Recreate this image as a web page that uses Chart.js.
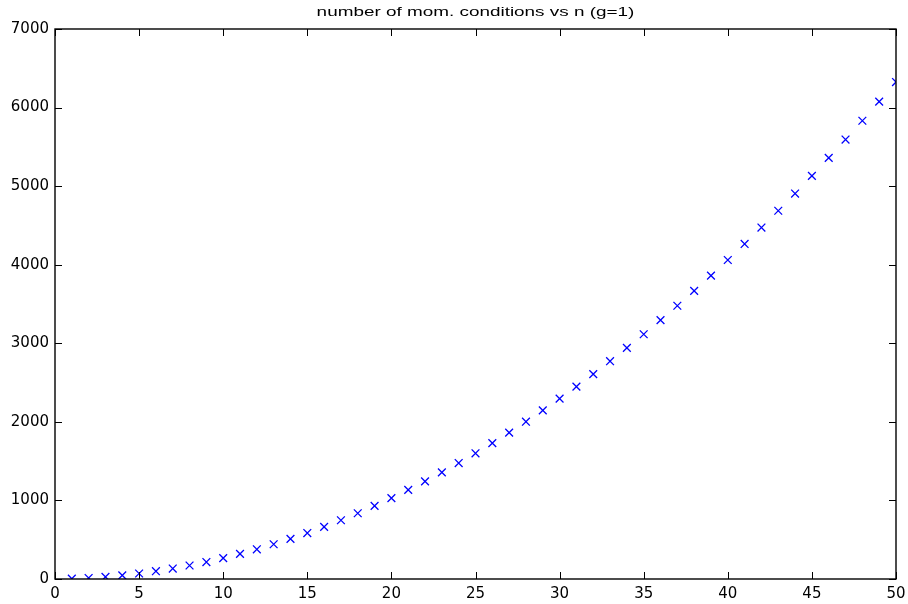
<!DOCTYPE html>
<html>
<head>
<meta charset="utf-8">
<script src="https://cdn.jsdelivr.net/npm/chart.js@4.4.1/dist/chart.umd.min.js"></script>
<style>
  html, body { margin: 0; padding: 0; background: #fff; }
  #wrap { width: 908px; height: 604px; }
</style>
</head>
<body>
<div id="wrap"><canvas id="c"></canvas></div>
<script>
const titleText = "number of mom. conditions vs n (g=1)";
const nValues = [
  1, 2, 3, 4, 5, 6, 7, 8, 9, 10,
  11, 12, 13, 14, 15, 16, 17, 18, 19, 20,
  21, 22, 23, 24, 25, 26, 27, 28, 29, 30,
  31, 32, 33, 34, 35, 36, 37, 38, 39, 40,
  41, 42, 43, 44, 45, 46, 47, 48, 49, 50,
];
const momConditions = [
  4, 13, 27, 46, 70, 99, 133, 172, 216, 265,
  319, 378, 442, 511, 585, 664, 748, 837, 931, 1030,
  1134, 1243, 1357, 1476, 1600, 1729, 1863, 2002, 2146, 2295,
  2449, 2608, 2772, 2941, 3115, 3294, 3478, 3667, 3861, 4060,
  4264, 4473, 4687, 4906, 5130, 5359, 5593, 5832, 6076, 6325,
];
const xTicks = [0, 5, 10, 15, 20, 25, 30, 35, 40, 45, 50];
const yTicks = [0, 1000, 2000, 3000, 4000, 5000, 6000, 7000];

const points = nValues.map((n, i) => ({ x: n, y: momConditions[i] }));
const tickLen = 7;

// matlab style box, inward ticks on all four sides, title over the plot area
const boxPlugin = {
  id: "matlabBox",
  afterDraw(chart) {
    const { ctx, chartArea: a } = chart;
    const sx = chart.scales.x;
    const sy = chart.scales.y;
    ctx.save();
    ctx.strokeStyle = "#000";
    ctx.lineWidth = 1;
    for (const v of xTicks) {
      const px = Math.round(sx.getPixelForValue(v)) + 0.5;
      ctx.beginPath();
      ctx.moveTo(px, a.bottom);
      ctx.lineTo(px, a.bottom - tickLen);
      ctx.stroke();
      ctx.beginPath();
      ctx.moveTo(px, a.top);
      ctx.lineTo(px, a.top + tickLen);
      ctx.stroke();
    }
    for (const v of yTicks) {
      const py = Math.round(sy.getPixelForValue(v)) + 0.5;
      ctx.beginPath();
      ctx.moveTo(a.left, py);
      ctx.lineTo(a.left + tickLen, py);
      ctx.stroke();
      ctx.beginPath();
      ctx.moveTo(a.right, py);
      ctx.lineTo(a.right - tickLen, py);
      ctx.stroke();
    }
    ctx.lineWidth = 1.4;
    ctx.strokeRect(a.left, a.top, a.right - a.left, a.bottom - a.top);

    ctx.fillStyle = "#000";
    ctx.font = "13.5px 'Liberation Sans', Arial, sans-serif";
    ctx.textAlign = "center";
    ctx.textBaseline = "middle";
    ctx.translate((a.left + a.right) / 2, 12.5);
    ctx.scale(1.4, 1);
    ctx.fillText(titleText, 0, 0);
    ctx.restore();
  },
};

new Chart(document.getElementById("c"), {
  type: "scatter",
  data: {
    datasets: [
      {
        label: "moment conditions",
        data: points,
        showLine: false,
        pointStyle: "crossRot",
        pointRadius: 5.5,
        pointHoverRadius: 5.5,
        borderColor: "#0000ff",
        backgroundColor: "#0000ff",
        borderWidth: 1.3,
      },
    ],
  },
  options: {
    responsive: true,
    maintainAspectRatio: false,
    animation: false,
    layout: { padding: { top: 29, right: 12, bottom: 0, left: 0 } },
    plugins: {
      legend: { display: false },
      title: { display: false },
      tooltip: { enabled: false },
    },
    scales: {
      x: {
        type: "linear",
        min: 0,
        max: 50,
        afterBuildTicks: (s) => { s.ticks = xTicks.map((v) => ({ value: v })); },
        afterFit: (s) => {
          s.height = 25;
          s.paddingLeft = 0;
          s.paddingRight = 0;
        },
        grid: { display: false, drawTicks: false },
        border: { display: false },
        ticks: {
          color: "#000",
          padding: 6,
          maxRotation: 0,
          font: { family: "'DejaVu Sans'", size: 15 },
        },
      },
      y: {
        min: 0,
        max: 7000,
        afterBuildTicks: (s) => { s.ticks = yTicks.map((v) => ({ value: v })); },
        afterFit: (s) => { s.width = 55; },
        grid: { display: false, drawTicks: false },
        border: { display: false },
        ticks: {
          color: "#000",
          padding: 6,
          font: { family: "'DejaVu Sans'", size: 15 },
          callback: (v) => String(v),
        },
      },
    },
  },
  plugins: [boxPlugin],
});
</script>
</body>
</html>
